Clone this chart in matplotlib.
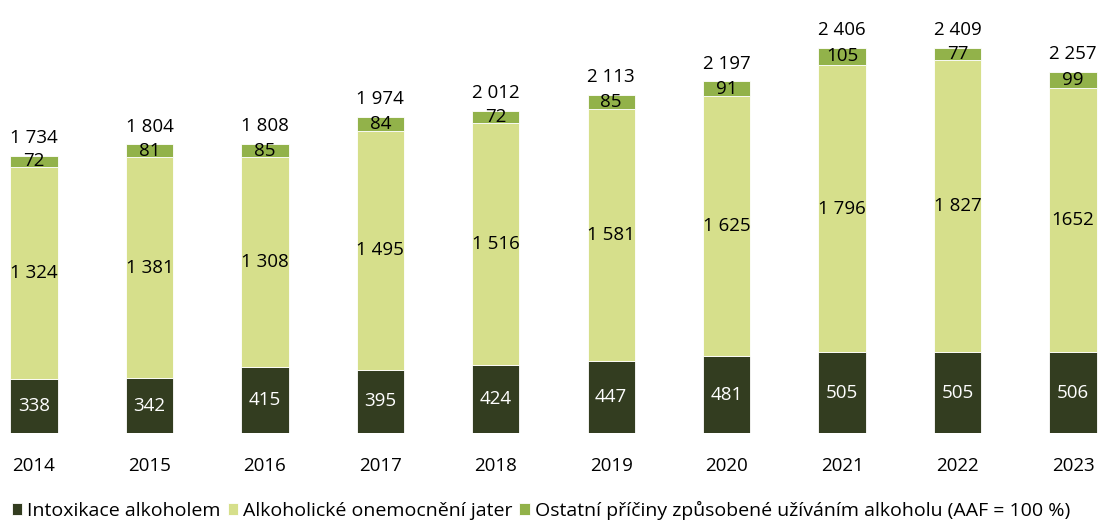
import matplotlib
matplotlib.use("Agg")
import matplotlib.pyplot as plt
import numpy as np

years = ["2014", "2015", "2016", "2017", "2018", "2019", "2020", "2021", "2022", "2023"]
intox = [338, 342, 415, 395, 424, 447, 481, 505, 505, 506]
liver = [1324, 1381, 1308, 1495, 1516, 1581, 1625, 1796, 1827, 1652]
other = [72, 81, 85, 84, 72, 85, 91, 105, 77, 99]
totals = [1734, 1804, 1808, 1974, 2012, 2113, 2197, 2406, 2409, 2257]
liver_labels = ["1 324", "1 381", "1 308", "1 495", "1 516", "1 581", "1 625", "1 796", "1 827", "1652"]

series_names = ["Intoxikace alkoholem", "Alkoholické onemocnění jater",
                "Ostatní příčiny způsobené užíváním alkoholu (AAF = 100 %)"]
colors = ["#333d20", "#d6df8b", "#92b24a"]

def fmt(v):
    return f"{v:,}".replace(",", " ")

plt.rcParams['font.family'] = ['Open Sans', 'DejaVu Sans']

fig = plt.figure(figsize=(10.98, 5.22), dpi=100)
ax = fig.add_axes([0, 89/522, 1, 400/522])
x = np.arange(len(years))
w = 0.41
b1 = ax.bar(x, intox, w, color=colors[0], edgecolor="white", linewidth=0.6, label=series_names[0])
b2 = ax.bar(x, liver, w, bottom=intox, color=colors[1], edgecolor="white", linewidth=0.6, label=series_names[1])
bot3 = np.array(intox) + np.array(liver)
b3 = ax.bar(x, other, w, bottom=bot3, color=colors[2], edgecolor="white", linewidth=0.6, label=series_names[2])

fs = 13.5
for i in range(len(years)):
    ax.text(x[i], intox[i] / 2, fmt(intox[i]), ha="center", va="center", color="white", fontsize=fs)
    ax.text(x[i], intox[i] + liver[i] / 2, liver_labels[i], ha="center", va="center", color="black", fontsize=fs)
    ax.text(x[i], bot3[i] + other[i] / 2, fmt(other[i]), ha="center", va="center", color="black", fontsize=fs)
    ax.text(x[i], totals[i] + 55, fmt(totals[i]), ha="center", va="bottom", color="black", fontsize=fs)

ax.set_xlim(-0.295, 9.217)
ax.set_ylim(0, 2500)
ax.set_xticks(x)
ax.set_xticklabels(years, fontsize=fs)
ax.tick_params(axis="x", length=0, pad=17)
ax.set_yticks([])
for s in ax.spines.values():
    s.set_visible(False)
ax.patch.set_visible(False)

fig.legend(handles=[b1, b2, b3], labels=series_names, loc="lower left",
           bbox_to_anchor=(0.0, -0.018), ncol=3, frameon=False, fontsize=14,
           handlelength=0.55, handleheight=0.55, handletextpad=0.25, columnspacing=0.35,
           borderaxespad=0.2)

fig.savefig("out.png", dpi=100)
